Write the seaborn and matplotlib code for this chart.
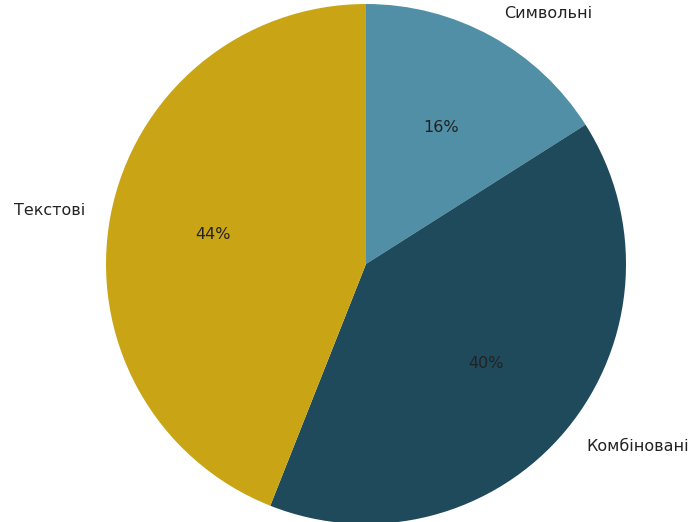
import numpy as np
import matplotlib.pyplot as plt
import seaborn as sns

# DATA
labels = ['Символьні', 'Комбіновані', 'Текстові']
shares = [16, 40, 44]
colors = ['#508fa6', '#1f4a5c', '#c9a516']

sns.set_theme(style='white')
plt.rcParams['font.family'] = ['DejaVu Sans']
palette = sns.color_palette(colors)

fig = plt.figure(figsize=(6.95, 5.22), dpi=100)
ax = fig.add_axes([0, 0, 1, 1])

ax.pie(shares, labels=labels, colors=palette, startangle=90,
       counterclock=False, autopct='%1.0f%%', radius=1.0,
       wedgeprops={'linewidth': 0, 'edgecolor': 'none'},
       textprops={'fontsize': 11.5, 'color': '#222222'})

# place the pie like in the original (center ~ (366,264) px, r ~ 260 px)
r_px = 260.0
cx, cy = 366.0, 264.0
ax.set_xlim(-cx / r_px, (695 - cx) / r_px)
ax.set_ylim(-(522 - cy) / r_px, cy / r_px)
ax.set_aspect('auto')
ax.axis('off')

fig.savefig('out.png', dpi=100)
